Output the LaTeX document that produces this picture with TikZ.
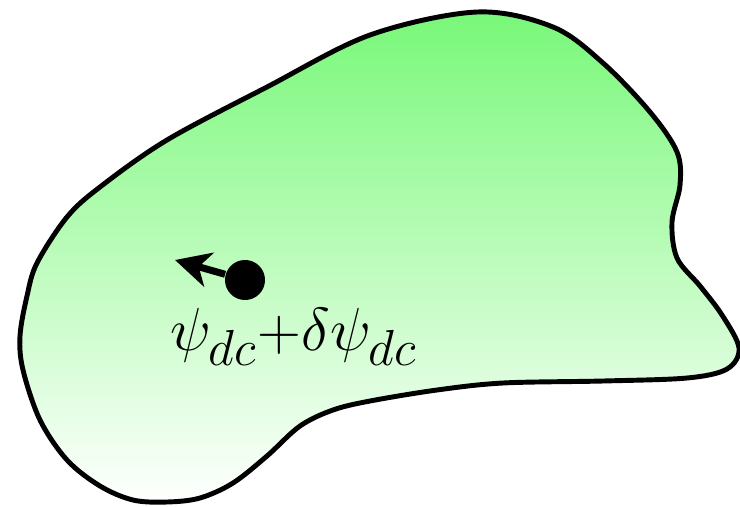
\documentclass[tikz,border=0pt]{standalone}
\usepackage{amsmath,amssymb}
\usetikzlibrary{arrows.meta,positioning,calc}
\definecolor{BlobGreen}{HTML}{78F878}
\definecolor{BlobLine}{HTML}{000000}

\begin{document}
\begin{tikzpicture}[x=0.01cm,y=-0.01cm,every node/.style={font=\fontsize{19}{23}\selectfont}]
    \tikzset{blob/.style={draw=BlobLine,line width=1.4pt,top color=BlobGreen,bottom color=white},
      particle/.style={circle,fill=black,inner sep=0pt,minimum size=0.4cm},
      kick/.style={-{Stealth[length=10pt,width=10pt,inset=3pt]},line width=2pt}}
    \useasboundingbox (0,0) rectangle (740,506);
    % the region
    \draw[blob] plot[smooth cycle,tension=0.55] coordinates {
      (37,263) (67,217) (100,187) (167,140) (267,87) (370,35) (477,12) (553,27)
      (603,63) (650,112) (677,152) (680,185) (672,222) (677,258) (700,286) (722,315)
      (739,348) (727,369) (687,378) (603,381) (503,383) (437,390) (370,401) (333,410)
      (300,426) (267,456) (233,483) (200,498) (167,502) (133,500) (100,486) (67,460)
      (40,420) (23,370) (20,336) (27,296)};
    \node[particle] (p) at (245,280) {};
    \coordinate (tip) at (175,260);
    \node (lbl) at (294,337) {$\psi_{dc}{+}\delta\psi_{dc}$};
    \draw[kick] (p) -- (tip);
  \end{tikzpicture}
\end{document}
